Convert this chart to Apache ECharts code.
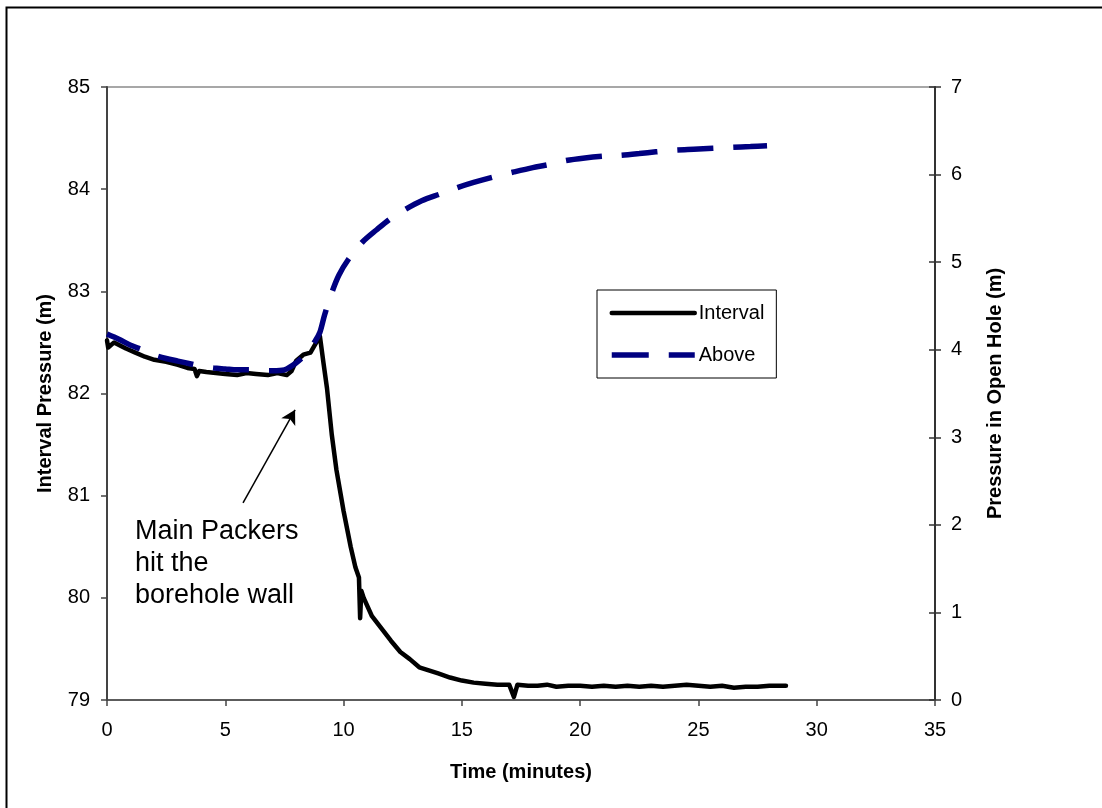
<!DOCTYPE html>
<html>
<head>
<meta charset="utf-8">
<script src="https://cdn.jsdelivr.net/npm/echarts@6/dist/echarts.min.js"></script>
<style>
html,body{margin:0;padding:0;background:#fff;}
#chart{width:1102px;height:808px;}
</style>
</head>
<body>
<div id="chart"></div>
<script>
// Interval pressure (left axis, m) : [time (min), value]
const intervalTime = [0,0.05,0.3,0.8,1.2,1.6,2.0,2.5,3.0,3.4,3.7,3.8,3.9,4.2,4.6,5.0,5.5,5.9,6.3,6.8,7.2,7.6,7.8,8.0,8.3,8.6,8.8,9.0,9.15,9.3,9.5,9.7,10.0,10.3,10.5,10.65,10.7,10.75,10.85,11.2,11.6,12.0,12.4,12.8,13.2,13.6,14.0,14.5,15.0,15.5,16.0,16.5,17.0,17.2,17.35,17.8,18.2,18.6,19.0,19.5,20.0,20.5,21,21.5,22,22.5,23,23.5,24,24.5,25,25.5,26,26.5,27,27.5,28,28.3,28.7];
const intervalValues = [82.52,82.45,82.5,82.44,82.40,82.36,82.33,82.31,82.28,82.25,82.24,82.17,82.22,82.21,82.2,82.19,82.18,82.2,82.19,82.18,82.2,82.18,82.22,82.32,82.38,82.4,82.48,82.56,82.3,82.05,81.6,81.25,80.85,80.5,80.3,80.2,79.8,80.07,80.0,79.82,79.7,79.58,79.47,79.4,79.32,79.29,79.26,79.22,79.19,79.17,79.16,79.15,79.15,79.03,79.15,79.14,79.14,79.15,79.13,79.14,79.14,79.13,79.14,79.13,79.14,79.13,79.14,79.13,79.14,79.15,79.14,79.13,79.14,79.12,79.13,79.13,79.14,79.14,79.14];
// Pressure above packers in open hole (right axis, m)
const aboveTime = [0,0.5,1.0,1.5,2.0,2.5,3.0,3.5,4.0,4.5,5.0,5.5,6.0,6.5,7.0,7.5,8.0,8.4,8.8,9.0,9.2,9.5,9.8,10.2,10.8,11.4,12.0,12.6,13.3,14.1,14.8,15.5,16.3,17.2,18.0,18.6,19.4,20.2,21.0,21.7,22.5,23.2,24.0,24.8,25.6,26.4,27.2,27.9];
const aboveValues = [4.18,4.12,4.05,4.0,3.94,3.9,3.87,3.84,3.81,3.79,3.78,3.77,3.77,3.76,3.76,3.77,3.85,3.95,4.1,4.2,4.4,4.65,4.85,5.03,5.23,5.37,5.5,5.6,5.7,5.78,5.85,5.91,5.97,6.03,6.08,6.11,6.16,6.19,6.21,6.22,6.24,6.26,6.28,6.29,6.3,6.31,6.32,6.33];
// Annotation arrow (data coords on left axis)
const arrowStart = [5.75, 80.93];
const arrowEnd = [7.95, 81.84];
const annotationText = 'Main Packers\nhit the\nborehole wall';

const FONT = '"Liberation Sans", Arial, sans-serif';
const zip = (a, b) => a.map((x, i) => [x, b[i]]);
const DASH = [36, 20];

const chart = echarts.init(document.getElementById('chart'));
chart.setOption({
  animation: false,
  backgroundColor: '#fff',
  textStyle: { fontFamily: FONT, color: '#000' },
  grid: { left: 107, right: 167, top: 87, bottom: 108, show: true, borderColor: '#8a8a8a', borderWidth: 1.5, backgroundColor: 'transparent' },
  xAxis: {
    type: 'value', min: 0, max: 35, interval: 5,
    name: 'Time (minutes)', nameLocation: 'middle', nameGap: 62,
    nameTextStyle: { fontFamily: FONT, fontSize: 20, fontWeight: 'bold', color: '#000' },
    axisLine: { show: true, onZero: false, lineStyle: { color: '#444', width: 1.5 } },
    axisTick: { show: true, length: 6, lineStyle: { color: '#444', width: 1.5 } },
    axisLabel: { fontFamily: FONT, fontSize: 20, color: '#000', margin: 20 },
    splitLine: { show: false }
  },
  yAxis: [{
    type: 'value', min: 79, max: 85, interval: 1, position: 'left',
    name: 'Interval Pressure (m)', nameLocation: 'middle', nameGap: 52, nameRotate: 90,
    nameTextStyle: { fontFamily: FONT, fontSize: 20, fontWeight: 'bold', color: '#000' },
    axisLine: { show: true, lineStyle: { color: '#444', width: 2 } },
    axisTick: { show: true, length: 6, lineStyle: { color: '#444', width: 1.5 } },
    axisLabel: { fontFamily: FONT, fontSize: 20, color: '#000', margin: 17 },
    splitLine: { show: false }
  }, {
    type: 'value', min: 0, max: 7, interval: 1, position: 'right',
    name: 'Pressure in Open Hole (m)', nameLocation: 'middle', nameGap: 50, nameRotate: 90,
    nameTextStyle: { fontFamily: FONT, fontSize: 20, fontWeight: 'bold', color: '#000' },
    axisLine: { show: true, lineStyle: { color: '#333', width: 2 } },
    axisTick: { show: true, length: 6, lineStyle: { color: '#333', width: 1.5 } },
    axisLabel: { fontFamily: FONT, fontSize: 20, color: '#000', margin: 16 },
    splitLine: { show: false }
  }, {
    type: 'value', min: 0, max: 7, interval: 1, position: 'right',
    axisLine: { show: false },
    axisTick: { show: true, inside: true, length: 6, lineStyle: { color: '#333', width: 1.5 } },
    axisLabel: { show: false },
    splitLine: { show: false }
  }],
  legend: {
    orient: 'vertical', left: 597, top: 290,
    padding: [13, 12, 13, 12], itemGap: 22, itemWidth: 83, itemHeight: 20,
    backgroundColor: '#fff', borderColor: '#000', borderWidth: 1, borderRadius: 0,
    textStyle: { fontFamily: FONT, fontSize: 20, color: '#000', padding: [0, 0, 0, -1] },
    itemStyle: { opacity: 0 },
    data: [
      { name: 'Interval', itemStyle: { opacity: 0 }, lineStyle: { width: 4.5, color: '#000', type: 'solid', cap: 'round' } },
      { name: 'Above', itemStyle: { opacity: 0 }, lineStyle: { width: 5.5, color: '#000080', type: [37, 20] } }
    ]
  },
  series: [{
    name: 'Interval', type: 'line', yAxisIndex: 0,
    data: zip(intervalTime, intervalValues),
    symbol: 'none', smooth: false,
    lineStyle: { color: '#000', width: 4.5, cap: 'round', join: 'round' },
    itemStyle: { color: '#000' },
    z: 3,
    markLine: {
      silent: true, animation: false,
      symbol: ['none', 'arrow'], symbolSize: [12, 14],
      label: { show: false },
      lineStyle: { color: '#000', width: 1.5, type: 'solid' },
      data: [[{ coord: arrowStart }, { coord: arrowEnd }]]
    }
  }, {
    name: 'Above', type: 'line', yAxisIndex: 1,
    data: zip(aboveTime, aboveValues),
    symbol: 'none', smooth: 0.3,
    lineStyle: { color: '#000080', width: 5.5, type: DASH },
    itemStyle: { color: '#000080' },
    z: 4
  }],
  graphic: [{
    type: 'rect', left: 4, top: 5, silent: true, z: 100,
    shape: { width: 1200, height: 900 },
    style: { fill: 'none', stroke: '#000', lineWidth: 2 }
  }, {
    type: 'text', left: 135, top: 516, z: 100,
    style: { text: annotationText, font: '27px ' + FONT, fill: '#000', lineHeight: 32 }
  }]
});
</script>
</body>
</html>
